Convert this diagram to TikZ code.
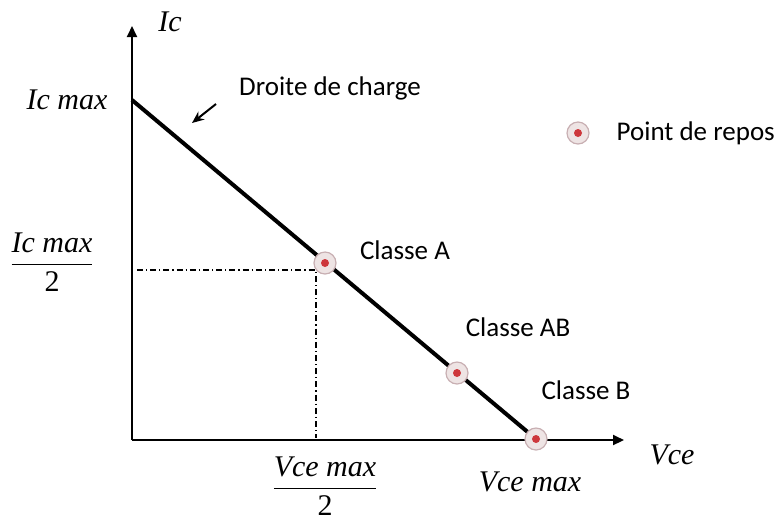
\documentclass[tikz,border=0pt]{standalone}
\usepackage{amsmath}
\usepackage{fontspec}
\setmainfont{Carlito}
\newfontfamily\axisfont{Liberation Serif}
\usepackage{tikz}
\usetikzlibrary{positioning,arrows.meta}
\usepackage{xcolor}
\definecolor{dotred}{RGB}{205,55,60}
\definecolor{ringgray}{RGB}{238,228,228}
\definecolor{ringedge}{RGB}{200,175,178}

\begin{document}
\begin{tikzpicture}[x=0.5pt,y=-0.5pt,
  axis/.style={line width=1pt,-{Triangle[length=5.5pt,width=5pt]}},
  chargeline/.style={line width=2pt},
  guide/.style={line width=0.6pt,dash pattern=on 3pt off 1.5pt on 0.6pt off 1.5pt},
  qpoint/.style={circle,fill=ringgray,draw=ringedge,line width=0.6pt,
    minimum size=11pt,inner sep=0pt,
    path picture={\fill[dotred] (path picture bounding box.center) circle (2pt);}},
  clab/.style={font=\fontsize{13.5}{15}\selectfont},
  vlab/.style={font=\axisfont\itshape\fontsize{15}{17}\selectfont,inner sep=1pt}
]
\useasboundingbox (0,0) rectangle (780,521);
% axes
\coordinate (O) at (132,440);
\coordinate (ytip) at (132,26);
\coordinate (xtip) at (624,440);
\draw[axis] (O) -- (ytip);
\draw[axis] (O) -- (xtip);
% load line
\coordinate (icmax) at (132,100);
\coordinate (half) at (316,270);
\draw[chargeline] (icmax) -- (536,439) coordinate (vcemax);
\draw[guide] (137,270) -- (half) -- (316,438);
% operating points
\node[qpoint] (pA) at (325,263) {};
\node[qpoint] (pAB) at (457,373) {};
\node[qpoint] (pB) at (vcemax) {};
\node[qpoint] (pleg) at (578,133) {};
% labels
\node[vlab] (lIc) at (170,22) {Ic};
\node[vlab] (lIcmax) at (67,100) {Ic max};
\node[vlab] (lIchalf) at (52,262) {$\dfrac{\textit{Ic max}}{\textup{2}}$};
\node[vlab] (lVce) at (672,455) {Vce};
\node[vlab] (lVcemax) at (530,482) {Vce max};
\node[vlab] (lVcehalf) at (325,486) {$\dfrac{\textit{Vce max}}{\textup{2}}$};
\node[clab] (ldroite) at (330,88) {Droite de charge};
\node[clab] (lA) at (405,250) {Classe A};
\node[clab] (lAB) at (518,327) {Classe AB};
\node[clab] (lB) at (586,390) {Classe B};
\node[clab,right=10pt of pleg] (lleg) {Point de repos};
\coordinate (ptr) at (192,123);
\draw[line width=1pt,-{Stealth[length=6pt,width=5pt]}] (216,104) -- (ptr);
\end{tikzpicture}
\end{document}
